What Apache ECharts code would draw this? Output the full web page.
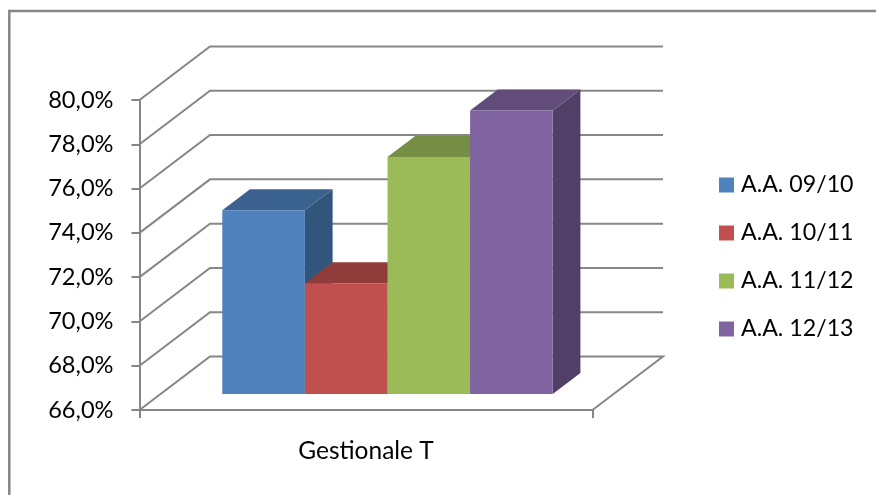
<!DOCTYPE html>
<html>
<head>
<meta charset="utf-8">
<style>html,body{margin:0;padding:0;background:#fff}#c{width:876px;height:495px}</style>
<script src="https://cdn.jsdelivr.net/npm/echarts@6/dist/echarts.min.js"></script>
</head>
<body>
<div id="c"></div>
<script>
var categories = ['Gestionale T'];
var seriesNames = ['A.A. 09/10', 'A.A. 10/11', 'A.A. 11/12', 'A.A. 12/13'];
var values0910 = [74.3];
var values1011 = [71.0];
var values1112 = [76.7];
var values1213 = [78.8];
var gridTicks = [66, 68, 70, 72, 74, 76, 78, 80];
var FONT = 'Lato';
var GREY = '#868686';
var LINE_W = 2;
var WALL = [70.5, -53.5];
var PLANE = [21.5, -16];
var DEPTH = [27.7, -21];
var BAR_W = 82.6;
var faces = [
  { front: '#4F81BD', top: '#3B618F', side: '#32557C' },
  { front: '#C0504D', top: '#903C3A', side: '#7A3331' },
  { front: '#9BBB59', top: '#768E43', side: '#647939' },
  { front: '#8064A2', top: '#614C7B', side: '#523F68' }
];
function barSeries(name, vals, idx) {
  return {
    name: name, type: 'custom', z: 5,
    itemStyle: { color: faces[idx].front },
    data: vals.map(function (v, i) { return [i, v]; }),
    encode: { x: 0, y: 1 },
    renderItem: function (params, api) {
      var top = api.coord([api.value(0), api.value(1)]);
      var base = api.coord([api.value(0), 66]);
      var x0 = top[0] + PLANE[0] + (idx - 2) * BAR_W;
      var x1 = x0 + BAR_W;
      var yT = top[1] + PLANE[1];
      var yB = base[1] + PLANE[1];
      var f = faces[idx];
      return { type: 'group', children: [
        { type: 'polygon', shape: { points: [[x1, yT], [x1 + DEPTH[0], yT + DEPTH[1]], [x1 + DEPTH[0], yB + DEPTH[1]], [x1, yB]] }, style: { fill: f.side } },
        { type: 'polygon', shape: { points: [[x0, yT], [x0 + DEPTH[0], yT + DEPTH[1]], [x1 + DEPTH[0], yT + DEPTH[1]], [x1, yT]] }, style: { fill: f.top } },
        { type: 'rect', shape: { x: x0, y: yT, width: BAR_W, height: yB - yT }, style: { fill: f.front } }
      ] };
    }
  };
}
var wallSeries = {
  name: 'wall', type: 'custom', z: 1, silent: true,
  data: gridTicks.map(function (t) { return [0, t]; }),
  encode: { y: 1 },
  renderItem: function (params, api) {
    var cs = params.coordSys;
    var y = api.coord([0, api.value(1)])[1];
    var pts = [[cs.x, y], [cs.x + WALL[0], y + WALL[1]], [cs.x + cs.width + WALL[0], y + WALL[1]]];
    if (api.value(1) === gridTicks[0]) pts.push([cs.x + cs.width, y]);
    return { type: 'polyline', shape: { points: pts }, style: { fill: 'none', stroke: GREY, lineWidth: LINE_W } };
  }
};
var chart = echarts.init(document.getElementById('c'), null, { renderer: 'canvas' });
chart.setOption({
  animation: false,
  backgroundColor: '#fff',
  textStyle: { fontFamily: FONT },
  graphic: [{ type: 'polyline', shape: { points: [[9.3, 495], [9.3, 11], [876, 11]] }, style: { fill: 'none', stroke: GREY, lineWidth: 2.5 }, silent: true }],
  grid: { left: 139.5, top: 100, width: 453, height: 310 },
  xAxis: {
    type: 'category', data: categories,
    axisLine: { lineStyle: { color: GREY, width: LINE_W } },
    axisTick: { show: true, alignWithLabel: false, length: 8, lineStyle: { color: GREY, width: LINE_W } },
    axisLabel: { color: '#000', fontFamily: FONT, fontSize: 24.5, margin: 29 }
  },
  yAxis: {
    type: 'value', min: 66, max: 80, interval: 2,
    splitLine: { show: false },
    axisLine: { show: true, lineStyle: { color: GREY, width: LINE_W } },
    axisTick: { show: true, length: 8, lineStyle: { color: GREY, width: LINE_W } },
    axisLabel: { color: '#000', fontFamily: FONT, fontSize: 23.6, margin: 26, padding: [7, 0, 0, 0], formatter: function (v) { return v.toFixed(1).replace('.', ',') + '%'; } }
  },
  legend: {
    data: seriesNames, orient: 'vertical', left: 719, top: 173.5, padding: 0,
    itemWidth: 15, itemHeight: 15, itemGap: 25, icon: 'rect',
    textStyle: { color: '#000', fontFamily: FONT, fontSize: 23.2, padding: [0, 0, 0, 2] },
    selectedMode: false
  },
  series: [wallSeries,
    barSeries(seriesNames[0], values0910, 0),
    barSeries(seriesNames[1], values1011, 1),
    barSeries(seriesNames[2], values1112, 2),
    barSeries(seriesNames[3], values1213, 3)]
});
</script>
</body>
</html>
